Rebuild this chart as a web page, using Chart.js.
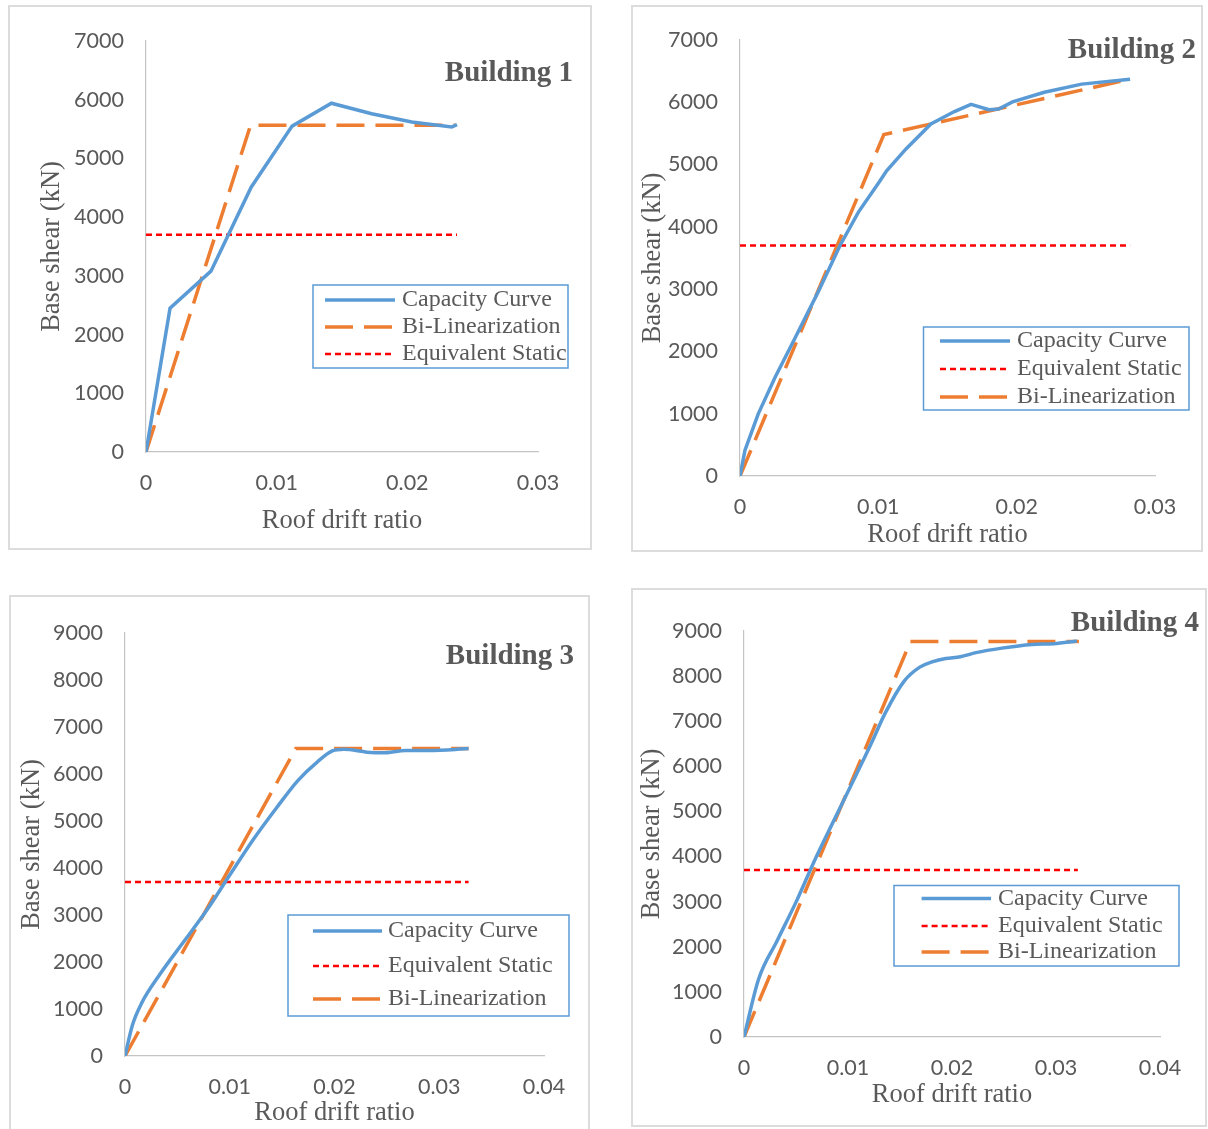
<!DOCTYPE html>
<html>
<head>
<meta charset="utf-8">
<script src="https://cdn.jsdelivr.net/npm/chart.js@4.4.1/dist/chart.umd.min.js"></script>
<style>
  body { margin: 0; background: #fff; width: 1208px; height: 1129px; position: relative; overflow: hidden; }
  .panel { position: absolute; box-sizing: border-box; border: 2px solid #dcdcdc; }
  canvas { position: absolute; }
</style>
</head>
<body>
<div class="panel" style="left:8px;top:5px;width:584px;height:545px"></div>
<div class="panel" style="left:631px;top:5px;width:572px;height:547px"></div>
<div class="panel" style="left:9px;top:595px;width:581px;height:540px"></div>
<div class="panel" style="left:631px;top:588px;width:576px;height:539px"></div>
<canvas id="c1" width="584" height="545" style="left:8px;top:5px"></canvas>
<canvas id="c2" width="572" height="547" style="left:631px;top:5px"></canvas>
<canvas id="c3" width="581" height="540" style="left:9px;top:595px"></canvas>
<canvas id="c4" width="576" height="539" style="left:631px;top:588px"></canvas>
<script>
// Building 1
const cap1X = [0, 0.00184, 0.00497, 0.00805, 0.01118, 0.01419, 0.01727, 0.02034, 0.0234, 0.0238];
const cap1Y = [0, 2450, 3080, 4510, 5550, 5940, 5760, 5620, 5535, 5575];
const bil1X = [0, 0.0080, 0.0237];
const bil1Y = [0, 5565, 5565];
const eqs1X = [0, 0.0238];
const eqs1Y = [3700, 3700];

// Building 2
const cap2X = [0, 0.00036, 0.00132, 0.00253, 0.00398, 0.00566, 0.00723, 0.00855, 0.0101, 0.0106, 0.0120, 0.0138, 0.0155, 0.0167, 0.0180, 0.0187, 0.0197, 0.0220, 0.0247, 0.0282];
const cap2Y = [0, 414, 997, 1580, 2216, 2959, 3701, 4232, 4730, 4900, 5250, 5650, 5850, 5965, 5880, 5890, 6005, 6160, 6290, 6370];
const bil2X = [0, 0.0104, 0.0282];
const bil2Y = [0, 5480, 6370];
const eqs2X = [0, 0.0282];
const eqs2Y = [3700, 3700];

// Building 3
const cap3X = [0, 0.0007, 0.0016, 0.0034, 0.0056, 0.0078, 0.0100, 0.0122, 0.0144, 0.0165, 0.0184, 0.0198, 0.0209, 0.0231, 0.0246, 0.0268, 0.0290, 0.0328];
const cap3Y = [0, 650, 1130, 1760, 2430, 3100, 3850, 4590, 5260, 5860, 6265, 6490, 6525, 6465, 6450, 6500, 6500, 6540];
const bil3X = [0, 0.0163, 0.0328];
const bil3Y = [0, 6540, 6540];
const eqs3X = [0, 0.0328];
const eqs3Y = [3700, 3700];

// Building 4
const cap4X = [0, 0.0014, 0.0032, 0.0050, 0.0068, 0.0086, 0.0104, 0.0122, 0.0136, 0.0154, 0.0169, 0.0180, 0.0194, 0.0208, 0.0223, 0.0248, 0.0277, 0.0298, 0.0320];
const cap4Y = [0, 1280, 2140, 2990, 3920, 4780, 5630, 6490, 7190, 7890, 8200, 8310, 8390, 8430, 8520, 8620, 8700, 8720, 8780];
const bil4X = [0, 0.0160, 0.0322];
const bil4Y = [0, 8765, 8765];
const eqs4X = [0, 0.0321];
const eqs4Y = [3700, 3700];

const serif = '"Liberation Serif", "Times New Roman", serif';
const textGrey = '#595959';

const pts = (xs, ys) => xs.map((x, i) => ({x: x, y: ys[i]}));

// title + boxed legend drawn inside the plot
const extras = {
  id: 'extras',
  afterDraw(chart, args, o) {
    const ctx = chart.ctx;
    ctx.save();
    ctx.font = 'bold 29px ' + serif;
    ctx.fillStyle = textGrey;
    ctx.textAlign = 'right';
    ctx.textBaseline = 'alphabetic';
    ctx.fillText(o.title, o.titleX, o.titleY);

    const b = o.box;
    ctx.strokeStyle = '#5b9bd5';
    ctx.lineWidth = 1.5;
    ctx.strokeRect(b.x, b.y, b.w, b.h);
    ctx.font = '24px ' + serif;
    ctx.textAlign = 'left';
    ctx.textBaseline = 'middle';
    o.order.forEach((idx, i) => {
      const ds = chart.data.datasets[idx];
      const y = o.rows[i];
      ctx.beginPath();
      ctx.setLineDash(ds.borderDash || []);
      ctx.strokeStyle = ds.borderColor;
      ctx.lineWidth = ds.borderWidth;
      ctx.moveTo(o.sampleX[0], y);
      ctx.lineTo(o.sampleX[1], y);
      ctx.stroke();
      ctx.setLineDash([]);
      ctx.fillStyle = textGrey;
      ctx.fillText(ds.label, o.textX, y);
    });
    ctx.restore();
  }
};

function makeChart(id, c) {
  new Chart(document.getElementById(id), {
    type: 'line',
    data: {
      datasets: [
        {label: 'Capacity Curve', data: pts(c.cap[0], c.cap[1]), borderColor: '#5b9bd5', borderWidth: 3.5,
         pointRadius: 0, fill: false, cubicInterpolationMode: c.smooth ? 'monotone' : 'default', tension: 0},
        {label: 'Bi-Linearization', data: pts(c.bil[0], c.bil[1]), borderColor: '#ed7d31', borderWidth: 3.5,
         borderDash: [28, 11], pointRadius: 0, fill: false, tension: 0},
        {label: 'Equivalent Static', data: pts(c.eqs[0], c.eqs[1]), borderColor: '#ff0000', borderWidth: 2.5,
         borderDash: [6, 4], pointRadius: 0, fill: false, tension: 0}
      ]
    },
    options: {
      responsive: false,
      animation: false,
      events: [],
      layout: {padding: {left: 0, top: c.padTop, right: c.padRight, bottom: 0}},
      plugins: {
        legend: {display: false},
        tooltip: {enabled: false},
        extras: c.extras
      },
      scales: {
        x: {
          type: 'linear', min: 0, max: c.xMax,
          afterFit: s => { s.height = c.xH; },
          grid: {display: false, drawTicks: false},
          border: {color: '#c4c4c4', width: 1.2},
          ticks: {stepSize: 0.01, padding: 18, color: textGrey, maxRotation: 0, autoSkip: false,
                  font: {family: 'Lato', size: 21.5},
                  callback: v => v === 0 ? '0' : v.toFixed(2)},
          title: {display: true, text: 'Roof drift ratio', color: textGrey,
                  font: {family: serif, size: 26.5}, padding: {top: 0, bottom: c.xTitlePad}}
        },
        y: {
          type: 'linear', min: 0, max: c.yMax,
          afterFit: s => { s.width = c.yW; },
          grid: {display: false, drawTicks: false},
          border: {color: '#c4c4c4', width: 1.2},
          ticks: {stepSize: 1000, padding: 22, color: textGrey, font: {family: 'Lato', size: 21.5},
                  callback: v => String(v)},
          title: {display: true, text: 'Base shear (kN)', color: textGrey,
                  font: {family: serif, size: 26.5}, padding: {top: c.yTitlePad, bottom: 0}}
        }
      }
    },
    plugins: [extras]
  });
}

makeChart('c1', {
  cap: [cap1X, cap1Y], bil: [bil1X, bil1Y], eqs: [eqs1X, eqs1Y], smooth: false,
  xMax: 0.03, yMax: 7000, padTop: 36, padRight: 54, yW: 138, xH: 98, yTitlePad: 28, xTitlePad: 13,
  extras: {title: 'Building 1', titleX: 565, titleY: 76,
           box: {x: 305, y: 280, w: 255, h: 83}, rows: [295, 322, 349],
           sampleX: [317, 387], textX: 394, order: [0, 1, 2]}
});

makeChart('c2', {
  cap: [cap2X, cap2Y], bil: [bil2X, bil2Y], eqs: [eqs2X, eqs2Y], smooth: false,
  xMax: 0.03, yMax: 7000, padTop: 31, padRight: 48, yW: 109, xH: 76, yTitlePad: 6, xTitlePad: 1,
  extras: {title: 'Building 2', titleX: 565, titleY: 53,
           box: {x: 292.5, y: 322, w: 265.5, h: 83}, rows: [336, 364, 392],
           sampleX: [309, 379], textX: 386, order: [0, 2, 1]}
});

makeChart('c3', {
  cap: [cap3X, cap3Y], bil: [bil3X, bil3Y], eqs: [eqs3X, eqs3Y], smooth: true,
  xMax: 0.04, yMax: 9000, padTop: 38, padRight: 46, yW: 116, xH: 79, yTitlePad: 7, xTitlePad: 6,
  extras: {title: 'Building 3', titleX: 565, titleY: 69,
           box: {x: 279, y: 320, w: 281, h: 101}, rows: [336, 371, 404],
           sampleX: [304, 373], textX: 379, order: [0, 2, 1]}
});

makeChart('c4', {
  cap: [cap4X, cap4Y], bil: [bil4X, bil4Y], eqs: [eqs4X, eqs4Y], smooth: true,
  xMax: 0.04, yMax: 9000, padTop: 43, padRight: 47, yW: 113, xH: 90, yTitlePad: 5, xTitlePad: 16,
  extras: {title: 'Building 4', titleX: 568, titleY: 43,
           box: {x: 263, y: 297.5, w: 285, h: 80.5}, rows: [310.6, 338, 364],
           sampleX: [290.6, 360], textX: 367, order: [0, 2, 1]}
});
</script>
</body>
</html>
